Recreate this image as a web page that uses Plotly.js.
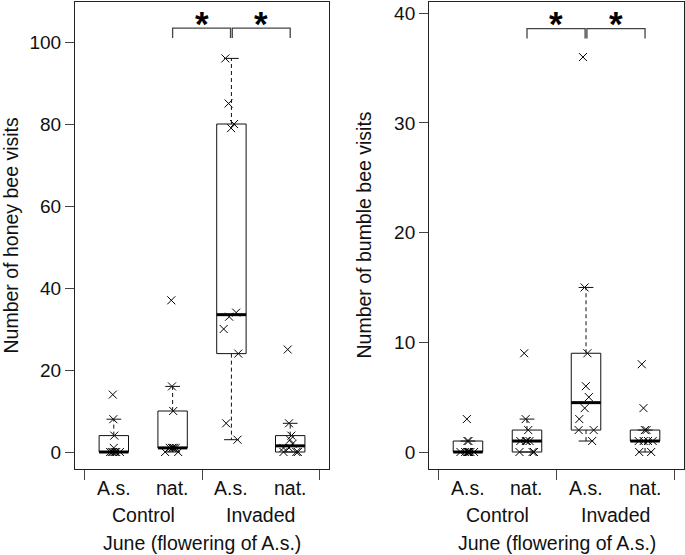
<!DOCTYPE html>
<html>
<head>
<meta charset="utf-8">
<script src="https://cdn.plot.ly/plotly-3.0.1.min.js"></script>
<style>html,body{margin:0;padding:0;background:#fff;}#chart{width:685px;height:555px;}</style>
</head>
<body>
<div id="chart"></div>
<script>
// ---- data ----
const groupLabels = ['A.s.', 'nat.', 'A.s.', 'nat.'];
const siteLabels = ['Control', 'Invaded'];
const xTitle = 'June (flowering of A.s.)';
const honeyTitle = 'Number of honey bee visits';
const bumbleTitle = 'Number of bumble bee visits';

const honeyControlAs  = [0, 0, 0, 0, 0, 0, 1, 4, 8, 14];
const honeyControlNat = [0, 0, 1, 1, 1, 1, 1, 10, 16, 37];
const honeyInvadedAs  = [3, 7, 24, 30, 33, 34, 79, 80, 85, 96];
const honeyInvadedNat = [0, 0, 0, 1, 1, 2, 3, 4, 7, 25];

const bumbleControlAs  = [0, 0, 0, 0, 0, 0, 0, 1, 1, 3];
const bumbleControlNat = [0, 0, 0, 1, 1, 1, 1, 2, 3, 9];
const bumbleInvadedAs  = [1, 2, 2, 3, 4, 5, 6, 9, 15, 36];
const bumbleInvadedNat = [0, 0, 1, 1, 1, 1, 2, 2, 4, 8];

const honeyTicks = [0, 20, 40, 60, 80, 100];
const bumbleTicks = [0, 10, 20, 30, 40];
const significance = ['*', '*'];

// ---- helpers ----
function fivenum(a) {
  const x = [...a].sort((p, q) => p - q);
  const n = x.length;
  const n4 = Math.floor((n + 3) / 2) / 2;
  const d = [1, n4, (n + 1) / 2, n + 1 - n4, n];
  return d.map(v => 0.5 * (x[Math.floor(v) - 1] + x[Math.ceil(v) - 1]));
}
function boxStats(a) {
  const f = fivenum(a);
  const iqr = f[3] - f[1];
  const inside = a.filter(v => v >= f[1] - 1.5 * iqr && v <= f[3] + 1.5 * iqr);
  return {q1: f[1], med: f[2], q3: f[3], lo: Math.min(...inside), hi: Math.max(...inside)};
}

const BOXHALF = 0.25, CAPHALF = 0.125;
const traces = [];
const FONT = 'Liberation Sans, Arial, Helvetica, sans-serif';
const LBL = 19.5;

function addGroup(values, pos, xa, ya) {
  const s = boxStats(values);
  const line = {color: '#111', width: 1};
  traces.push({type: 'scatter', mode: 'lines', xaxis: xa, yaxis: ya, hoverinfo: 'skip', showlegend: false,
    x: [pos - BOXHALF, pos + BOXHALF, pos + BOXHALF, pos - BOXHALF, pos - BOXHALF],
    y: [s.q1, s.q1, s.q3, s.q3, s.q1], line: line});
  traces.push({type: 'scatter', mode: 'lines', xaxis: xa, yaxis: ya, hoverinfo: 'skip', showlegend: false,
    x: [pos, pos, null, pos, pos], y: [s.q3, s.hi, null, s.q1, s.lo],
    line: {color: '#111', width: 1, dash: '4px,3px'}});
  traces.push({type: 'scatter', mode: 'lines', xaxis: xa, yaxis: ya, hoverinfo: 'skip', showlegend: false,
    x: [pos - CAPHALF, pos + CAPHALF, null, pos - CAPHALF, pos + CAPHALF],
    y: [s.hi, s.hi, null, s.lo, s.lo], line: line});
  traces.push({type: 'scatter', mode: 'lines', xaxis: xa, yaxis: ya, hoverinfo: 'skip', showlegend: false,
    x: [pos - BOXHALF, pos + BOXHALF], y: [s.med, s.med], line: {color: '#000', width: 3}});
  traces.push({type: 'box', xaxis: xa, yaxis: ya, showlegend: false, hoverinfo: 'skip',
    y: values, x0: pos, width: 2 * BOXHALF, boxpoints: 'all', jitter: 0.8, pointpos: 0,
    fillcolor: 'rgba(0,0,0,0)', line: {color: 'rgba(0,0,0,0)', width: 0},
    marker: {symbol: 'x-thin', size: 8, color: '#000', line: {color: '#000', width: 1}}});
}

const honeyGroups = [honeyControlAs, honeyControlNat, honeyInvadedAs, honeyInvadedNat];
const bumbleGroups = [bumbleControlAs, bumbleControlNat, bumbleInvadedAs, bumbleInvadedNat];
honeyGroups.forEach((g, i) => addGroup(g, i + 1, 'x', 'y'));
bumbleGroups.forEach((g, i) => addGroup(g, i + 1, 'x2', 'y2'));

const xCommon = {range: [0.34, 4.66], tickvals: [0.5, 2.5, 4.5], ticks: 'outside', ticklen: 10, tickwidth: 1,
  tickcolor: '#444', showticklabels: false, showline: true, mirror: true, linecolor: '#222', linewidth: 1,
  showgrid: false, zeroline: false, fixedrange: true};
const yCommon = {ticks: 'outside', ticklen: 9, tickwidth: 1, tickcolor: '#444', showline: true, mirror: true,
  linecolor: '#222', linewidth: 1, showgrid: false, zeroline: false, fixedrange: true,
  tickfont: {family: FONT, size: 19, color: '#111'}};

const annotations = [];
const shapes = [];
function panelText(xa) {
  groupLabels.forEach((t, i) => annotations.push({xref: xa, yref: 'paper', x: i + 1, y: 0, yanchor: 'middle',
    yshift: -19, text: t, showarrow: false, font: {family: FONT, size: LBL, color: '#111'}}));
  siteLabels.forEach((t, i) => annotations.push({xref: xa, yref: 'paper', x: 1.5 + 2 * i, y: 0, yanchor: 'middle',
    yshift: -45.5, text: t, showarrow: false, font: {family: FONT, size: LBL, color: '#111'}}));
  annotations.push({xref: xa, yref: 'paper', x: 2.5, y: 0, yanchor: 'middle', yshift: -74,
    text: xTitle, showarrow: false, font: {family: FONT, size: LBL, color: '#111'}});
}
panelText('x');
panelText('x2');
annotations.push({xref: 'paper', yref: 'paper', x: 0, xshift: -65, y: 0.5, xanchor: 'center', yanchor: 'middle',
  textangle: -90, text: honeyTitle, showarrow: false, font: {family: FONT, size: LBL, color: '#111'}});
annotations.push({xref: 'paper', yref: 'paper', x: 0.5813, xshift: -66, y: 0.5, xanchor: 'center', yanchor: 'middle',
  textangle: -90, text: bumbleTitle, showarrow: false, font: {family: FONT, size: LBL, color: '#111'}});

function brackets(xa, ya, yTop, yBot) {
  const pairs = [[2, 2.985], [3.015, 4]];
  pairs.forEach((p, i) => {
    shapes.push({type: 'path', xref: xa, yref: ya, layer: 'above',
      path: `M${p[0]},${yBot} L${p[0]},${yTop} L${p[1]},${yTop} L${p[1]},${yBot}`,
      line: {color: '#444', width: 1.3}});
    annotations.push({xref: xa, yref: 'paper', x: (p[0] + p[1]) / 2, y: 1, yanchor: 'top', showarrow: false,
      text: '<b>' + significance[i] + '</b>', font: {family: FONT, size: 35, color: '#000'}});
  });
}
brackets('x', 'y', 103.4, 101.0);
brackets('x2', 'y2', 38.6, 37.7);

const layout = {
  width: 685, height: 555, margin: {l: 75, r: 1, t: 2, b: 86}, showlegend: false,
  paper_bgcolor: '#fff', plot_bgcolor: '#fff', boxmode: 'overlay',
  font: {family: FONT, size: LBL, color: '#111'},
  xaxis: Object.assign({}, xCommon, {domain: [0, 0.4171], anchor: 'y'}),
  yaxis: Object.assign({}, yCommon, {range: [-4.146, 109.76], tickvals: honeyTicks, anchor: 'x'}),
  xaxis2: Object.assign({}, xCommon, {domain: [0.5813, 1], anchor: 'y2'}),
  yaxis2: Object.assign({}, yCommon, {range: [-1.55, 41.02], tickvals: bumbleTicks, anchor: 'x2'}),
  annotations: annotations, shapes: shapes
};
Plotly.newPlot('chart', traces, layout, {staticPlot: true, displayModeBar: false});
</script>
</body>
</html>
